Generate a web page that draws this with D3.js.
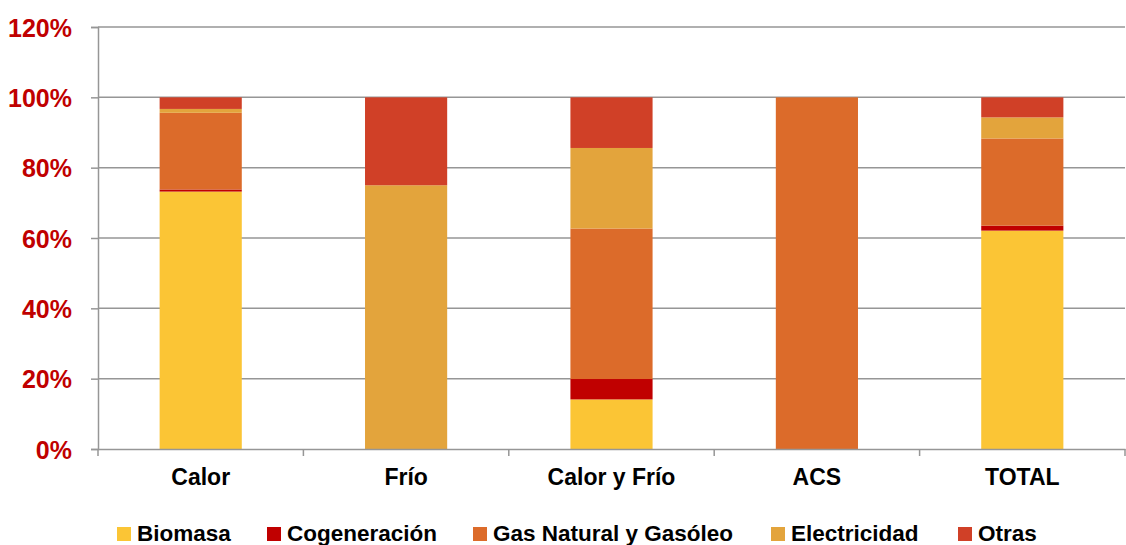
<!DOCTYPE html>
<html>
<head>
<meta charset="utf-8">
<script src="https://cdnjs.cloudflare.com/ajax/libs/d3/7.8.5/d3.min.js"></script>
<style>
    body { margin: 0; background: #fff; }
    svg { display: block; font-family: "Liberation Sans", Arial, sans-serif; font-weight: 700; }
    .y-axis text { fill: #C00000; font-size: 25px; }
    .x-axis text { fill: #000; font-size: 23px; }
    .legend text { fill: #000; font-size: 22.5px; }
</style>
</head>
<body>
<svg></svg>
<script>
// categories & series
const categories = ['Calor', 'Frío', 'Calor y Frío', 'ACS', 'TOTAL'];
const seriesNames = ['Biomasa', 'Cogeneración', 'Gas Natural y Gasóleo', 'Electricidad', 'Otras'];
const biomasa = [73.2, 0, 14.1, 0, 62.1];
const cogeneracion = [0.6, 0, 5.8, 0, 1.4];
const gasNatural = [21.8, 0, 42.8, 100, 24.8];
const electricidad = [1.1, 75, 22.9, 0, 6.0];
const otras = [3.3, 25, 14.4, 0, 5.7];
const yTicks = [0, 20, 40, 60, 80, 100, 120];
const colors = ['#FBC535', '#C00000', '#DC6B2A', '#E3A43C', '#D04027'];

(() => {
    const width = 1126, height = 545;
    const margin = { top: 27, right: 1, bottom: 96, left: 98 };
    const innerW = width - margin.left - margin.right;
    const innerH = height - margin.top - margin.bottom;

    const svg = d3.select('svg').attr('width', width).attr('height', height);
    const g = svg.append('g').attr('transform', `translate(${margin.left}, ${margin.top})`);

    const data = categories.map((c, i) => ({
        cat: c,
        Biomasa: biomasa[i],
        'Cogeneración': cogeneracion[i],
        'Gas Natural y Gasóleo': gasNatural[i],
        Electricidad: electricidad[i],
        Otras: otras[i]
    }));

    const x = d3.scaleBand().domain(categories).range([0, innerW]);
    const y = d3.scaleLinear().domain([0, 120]).range([innerH, 0]);
    const color = d3.scaleOrdinal().domain(seriesNames).range(colors);

    // gridlines
    g.append('g')
        .selectAll('line')
        .data(yTicks.slice(1))
        .enter().append('line')
        .attr('x1', 0).attr('x2', innerW)
        .attr('y1', d => y(d)).attr('y2', d => y(d))
        .attr('stroke', '#969696').attr('stroke-width', 1.5);

    // y axis
    const yAxis = g.append('g').attr('class', 'y-axis')
        .call(d3.axisLeft(y).tickValues(yTicks).tickFormat(d => d + '%').tickSize(7).tickPadding(19));
    yAxis.select('.domain').attr('stroke', '#969696').attr('stroke-width', 1.5);
    yAxis.selectAll('.tick line').attr('stroke', '#969696').attr('stroke-width', 1.5);
    yAxis.selectAll('text').attr('dy', '0.36em');

    // bars
    const barW = x.bandwidth() * 0.4;
    g.append('g')
        .selectAll('g')
        .data(d3.stack().keys(seriesNames)(data))
        .enter().append('g')
        .attr('fill', d => color(d.key))
        .selectAll('rect')
        .data(d => d)
        .enter().append('rect')
        .attr('x', d => x(d.data.cat) + (x.bandwidth() - barW) / 2)
        .attr('y', d => y(d[1]))
        .attr('height', d => y(d[0]) - y(d[1]))
        .attr('width', barW);

    // x axis
    const xAxis = g.append('g').attr('class', 'x-axis')
        .attr('transform', `translate(0, ${innerH})`)
        .call(d3.axisBottom(x).tickSize(0));
    xAxis.select('.domain').attr('stroke', '#969696').attr('stroke-width', 1.5);
    xAxis.selectAll('text').attr('y', 36).attr('dy', 0);
    xAxis.selectAll('.sep')
        .data(d3.range(categories.length + 1))
        .enter().append('line')
        .attr('class', 'sep')
        .attr('x1', i => i * x.step()).attr('x2', i => i * x.step())
        .attr('y1', 0).attr('y2', 7)
        .attr('stroke', '#969696').attr('stroke-width', 1.5);

    // legend
    const legendX = [117, 267, 473, 771, 958];
    const legend = svg.append('g').attr('class', 'legend');
    const keys = legend.selectAll('g')
        .data(seriesNames)
        .enter().append('g')
        .attr('transform', (d, i) => `translate(${legendX[i]}, 527)`);
    keys.append('rect')
        .attr('width', 14).attr('height', 14)
        .attr('fill', d => color(d));
    keys.append('text')
        .attr('x', 20).attr('y', 14)
        .text(d => d);
})();
</script>
</body>
</html>
